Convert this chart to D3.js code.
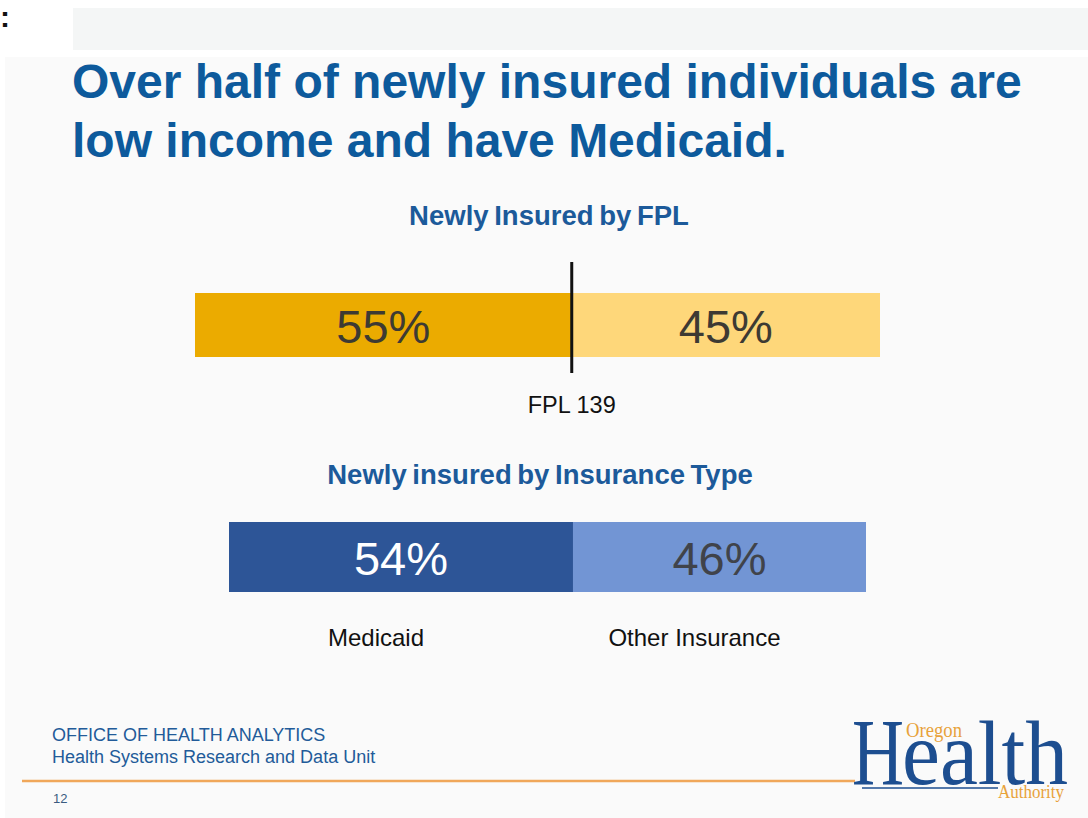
<!DOCTYPE html>
<html>
<head>
<meta charset="utf-8">
<script src="https://cdn.jsdelivr.net/npm/d3@7"></script>
<style>
  html, body { margin: 0; padding: 0; background: #ffffff; }
  svg { display: block; }
</style>
</head>
<body>
<svg id="slide" width="1088" height="818"></svg>
<script>
// Shares of the newly insured, split at the FPL cutoff
const fplLabels = ["Below FPL 139", "Above FPL 139"];
const fplShares = [55, 45];
const fplCutoffLabel = "FPL 139";

// Shares of the newly insured by insurance type
const insuranceLabels = ["Medicaid", "Other Insurance"];
const insuranceShares = [54, 46];

const titleLines = [
  "Over half of newly insured individuals are",
  "low income and have Medicaid."
];
const footerLines = ["OFFICE OF HEALTH ANALYTICS", "Health Systems Research and Data Unit"];
const pageNumber = "12";

const svg = d3.select("#slide");
const sans = "Liberation Sans, Arial, Helvetica, sans-serif";
const serif = "Liberation Serif, Times New Roman, serif";

// page chrome
svg.append("text").attr("x", 0).attr("y", 27)
  .attr("font-family", sans).attr("font-weight", "bold").attr("font-size", 30)
  .attr("fill", "#111").text(":");
svg.append("rect").attr("x", 73).attr("y", 8).attr("width", 1015).attr("height", 42).attr("fill", "#f4f6f6");
svg.append("rect").attr("x", 5).attr("y", 57).attr("width", 1083).attr("height", 761).attr("fill", "#fafafa");

// headline
svg.selectAll("text.headline").data(titleLines).join("text")
  .attr("class", "headline")
  .attr("x", 72).attr("y", (d, i) => 98 + i * 59)
  .attr("font-family", sans).attr("font-weight", "bold").attr("font-size", 48)
  .attr("fill", "#0d5a9c")
  .text(d => d);

// stacked 100% bar helper
function stackedBar(cfg) {
  const x = d3.scaleLinear().domain([0, 100]).range(cfg.range);
  const stack = [];
  let acc = 0;
  cfg.values.forEach((v, i) => { stack.push({ v, i, x0: acc, x1: acc + v }); acc += v; });
  const g = svg.append("g");
  g.selectAll("rect").data(stack).join("rect")
    .attr("x", d => x(d.x0)).attr("y", cfg.y)
    .attr("width", d => x(d.x1) - x(d.x0)).attr("height", cfg.h)
    .attr("fill", d => cfg.colors[d.i]);
  g.selectAll("text.pct").data(stack).join("text")
    .attr("class", "pct")
    .attr("x", d => (x(d.x0) + x(d.x1)) / 2)
    .attr("y", cfg.y + cfg.h / 2 + 18)
    .attr("text-anchor", "middle")
    .attr("font-family", sans).attr("font-size", 47)
    .attr("fill", d => cfg.textColors[d.i])
    .text(d => d.v + "%");
  return { x, stack };
}

// chart 1: newly insured by FPL
svg.append("text").attr("x", 549).attr("y", 225).attr("text-anchor", "middle")
  .attr("font-family", sans).attr("font-weight", "bold").attr("font-size", 27.5)
  .attr("word-spacing", -2)
  .attr("fill", "#1c5a9a").text("Newly Insured by FPL");

const fpl = stackedBar({
  values: fplShares, range: [195, 880], y: 293, h: 64,
  colors: ["#ebab00", "#fed77a"], textColors: ["#3d3a33", "#3d3a33"]
});
const cutX = fpl.x(fplShares[0]);
svg.append("line").attr("x1", cutX).attr("x2", cutX).attr("y1", 262).attr("y2", 373)
  .attr("stroke", "#111").attr("stroke-width", 3);
svg.append("text").attr("x", cutX).attr("y", 413).attr("text-anchor", "middle")
  .attr("font-family", sans).attr("font-size", 23.5).attr("fill", "#111")
  .text(fplCutoffLabel);

// chart 2: newly insured by insurance type
svg.append("text").attr("x", 540).attr("y", 484).attr("text-anchor", "middle")
  .attr("font-family", sans).attr("font-weight", "bold").attr("font-size", 27.5)
  .attr("word-spacing", -2)
  .attr("fill", "#1c5a9a").text("Newly insured by Insurance Type");

const ins = stackedBar({
  values: insuranceShares, range: [229, 866], y: 522, h: 70,
  colors: ["#2d5597", "#7295d4"], textColors: ["#ffffff", "#40434a"]
});
svg.selectAll("text.cat").data(ins.stack).join("text")
  .attr("class", "cat")
  .attr("x", d => (ins.x(d.x0) + ins.x(d.x1)) / 2 - 25)
  .attr("y", 646)
  .attr("text-anchor", "middle")
  .attr("font-family", sans).attr("font-size", 24).attr("fill", "#111")
  .text(d => insuranceLabels[d.i]);

// footer
svg.selectAll("text.footer").data(footerLines).join("text")
  .attr("class", "footer")
  .attr("x", 52).attr("y", (d, i) => 741 + i * 22)
  .attr("font-family", sans).attr("font-size", 18).attr("fill", "#225b99")
  .text(d => d);
svg.append("line").attr("x1", 22).attr("x2", 855).attr("y1", 781).attr("y2", 781)
  .attr("stroke", "#f0a75a").attr("stroke-width", 2.5);
svg.append("text").attr("x", 53).attr("y", 803)
  .attr("font-family", sans).attr("font-size", 13).attr("fill", "#3a5a80")
  .text(pageNumber);

// agency wordmark
const logo = svg.append("g");
logo.append("text").attr("x", 852).attr("y", 785)
  .attr("font-family", serif).attr("font-size", 95).attr("fill", "#1d4e90")
  .attr("textLength", 52).attr("lengthAdjust", "spacingAndGlyphs")
  .text("H");
logo.append("text").attr("x", 902).attr("y", 784)
  .attr("font-family", serif).attr("font-size", 92).attr("fill", "#1d4e90")
  .attr("textLength", 166).attr("lengthAdjust", "spacingAndGlyphs")
  .text("ealth");
logo.append("line").attr("x1", 862).attr("x2", 998).attr("y1", 788).attr("y2", 788)
  .attr("stroke", "#1d4e90").attr("stroke-width", 1.5);
logo.append("text").attr("x", 906).attr("y", 737)
  .attr("font-family", serif).attr("font-size", 20).attr("fill", "#e8a23a")
  .attr("textLength", 56).attr("lengthAdjust", "spacingAndGlyphs")
  .text("Oregon");
logo.append("text").attr("x", 998).attr("y", 798)
  .attr("font-family", serif).attr("font-size", 18).attr("fill", "#e8a23a")
  .attr("textLength", 66).attr("lengthAdjust", "spacingAndGlyphs")
  .text("Authority");
</script>
</body>
</html>
